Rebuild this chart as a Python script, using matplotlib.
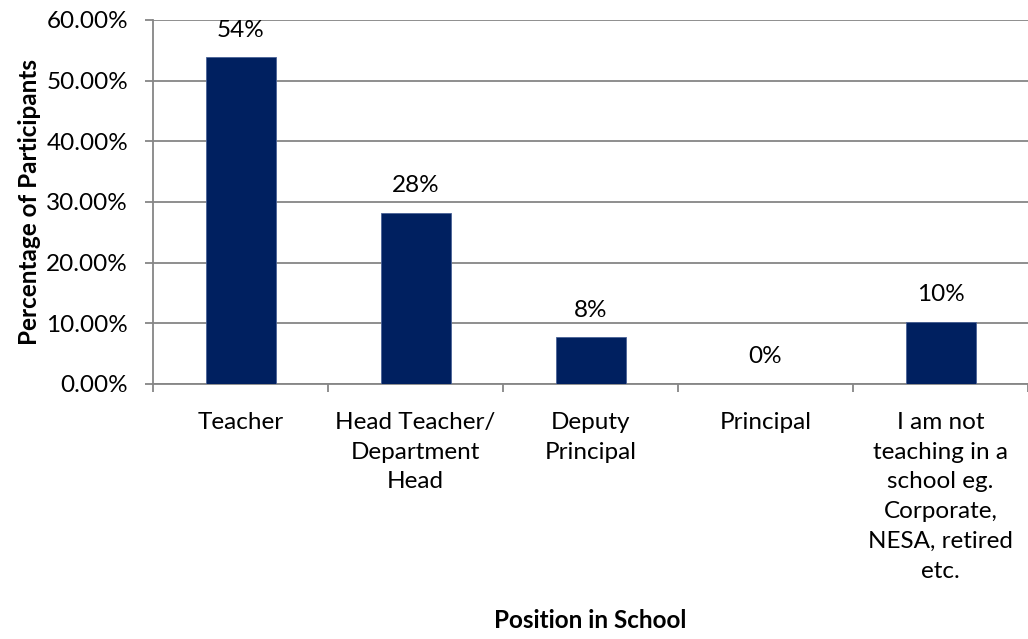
import numpy as np
import matplotlib.pyplot as plt
from matplotlib.ticker import PercentFormatter

plt.rcParams['font.family'] = ['Lato', 'DejaVu Sans']
fs = 17.5

# 39 respondents
positions = ["Teacher", "Head Teacher/\nDepartment\nHead", "Deputy\nPrincipal", "Principal",
             "I am not\nteaching in a\nschool eg.\nCorporate,\nNESA, retired\netc."]
share = [53.85, 28.21, 7.69, 0.0, 10.26]
bar_labels = ["54%", "28%", "8%", "0%", "10%"]

fig = plt.figure(figsize=(10.28, 6.39), dpi=100)
ax = fig.add_axes([153/1028, 1 - 384/639, (1028 - 153)/1028, (384 - 20)/639])

x = np.arange(len(positions))
bars = ax.bar(x, share, width=0.4, color="#002060", edgecolor="#4a6296", linewidth=0.6, zorder=3)

for b, lab in zip(bars, bar_labels):
    ax.annotate(lab, (b.get_x() + b.get_width()/2, b.get_height()), xytext=(0, 12),
                textcoords="offset points", ha="center", va="bottom", fontsize=fs)

ax.set_xlim(-0.5, len(positions) - 0.5)
ax.set_ylim(0, 60)
ax.set_yticks(np.arange(0, 61, 10))
ax.yaxis.set_major_formatter(PercentFormatter(decimals=2))
ax.yaxis.grid(True, color="#868686", linewidth=1.3, zorder=0)

ax.set_xticks(x)
ax.set_xticklabels(positions, linespacing=1.52)
ax.set_xticks(np.arange(-0.5, len(positions)), minor=True)
ax.tick_params(axis="x", which="major", length=0, pad=20, labelsize=fs)
ax.tick_params(axis="x", which="minor", length=6, width=1.3, color="#868686")
ax.tick_params(axis="y", length=6, width=1.3, color="#868686", labelsize=fs, pad=12)

for s in ["top", "right"]:
    ax.spines[s].set_visible(False)
for s in ["left", "bottom"]:
    ax.spines[s].set_color("#868686")
    ax.spines[s].set_linewidth(1.3)

ax.set_ylabel("Percentage of Participants", fontsize=fs, fontweight="bold", labelpad=4)
fig.text(590/1028, 1 - 620/639, "Position in School", ha="center", va="center",
         fontsize=fs, fontweight="bold")

fig.savefig("out.png", dpi=100)
